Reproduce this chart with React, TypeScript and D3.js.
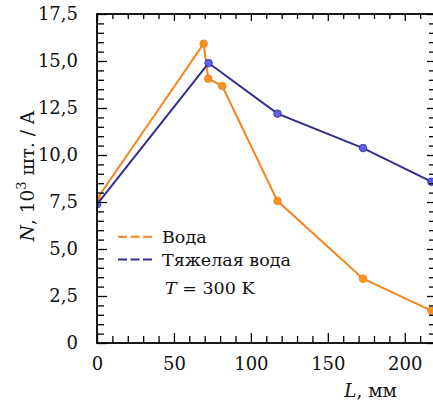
import { useEffect, useRef } from "react";
import * as d3 from "d3";

// Вода (обычная)
const waterL = [0, 69.3, 72.3, 81.4, 117.3, 172.9, 217.3];
const waterN = [7.66, 15.92, 14.06, 13.67, 7.55, 3.42, 1.72];

// Тяжелая вода
const heavyL = [0, 72.5, 117.3, 172.9, 217.3];
const heavyN = [7.38, 14.89, 12.2, 10.37, 8.58];

const xMajor = [0, 50, 100, 150, 200];
const yMajor = [0, 2.5, 5, 7.5, 10, 12.5, 15, 17.5];

const FONT = "'DejaVu Serif', serif";

const App = () => {
  const svgRef = useRef<SVGSVGElement>(null);

  useEffect(() => {
    const width = 433;
    const height = 404;
    const left = 97;
    const top = 14;
    const bottom = 343;

    const svg = d3.select(svgRef.current).attr("width", width).attr("height", height);
    svg.selectAll("*").remove();

    const x = d3.scaleLinear().domain([0, 219]).range([left, 434]);
    const y = d3.scaleLinear().domain([0, 17.5]).range([bottom, top]);

    const xMinor = d3.range(0, 219, 10).filter((v) => v % 50 !== 0);
    const yMinor = d3.range(0, 17.5, 0.5).filter((v) => Math.abs(v / 2.5 - Math.round(v / 2.5)) > 1e-6);

    // clip for data
    svg
      .append("clipPath")
      .attr("id", "plot-clip")
      .append("rect")
      .attr("x", x(0))
      .attr("y", y(17.5))
      .attr("width", x(219) - x(0))
      .attr("height", y(0) - y(17.5));

    const plot = svg.append("g").attr("clip-path", "url(#plot-clip)");

    const series = [
      { L: waterL, N: waterN, line: "#f5841f", fill: "#f7931e", edge: "#f07d1a" },
      { L: heavyL, N: heavyN, line: "#2e2e8f", fill: "#5f5fe8", edge: "#2e2e8f" },
    ];

    series.forEach((s) => {
      const pts = s.L.map((l, i) => [l, s.N[i]] as [number, number]);
      const line = d3
        .line<[number, number]>()
        .x((d) => x(d[0]))
        .y((d) => y(d[1]));
      plot
        .append("path")
        .attr("d", line(pts))
        .attr("fill", "none")
        .attr("stroke", s.line)
        .attr("stroke-width", 2);
      plot
        .selectAll(null)
        .data(pts)
        .enter()
        .append("circle")
        .attr("cx", (d) => x(d[0]))
        .attr("cy", (d) => y(d[1]))
        .attr("r", 3.8)
        .attr("fill", s.fill)
        .attr("stroke", s.edge)
        .attr("stroke-width", 0.8);
    });

    // ticks (inward on all four sides)
    const fmtY = (d: d3.NumberValue) => (+d === 0 ? "0" : d3.format(".1f")(+d).replace(".", ","));

    const addAxis = (axis: any, transform: string, labels: boolean) => {
      const g = svg.append("g").attr("transform", transform).call(axis);
      g.select(".domain").remove();
      g.selectAll("line").attr("stroke", "#000").attr("stroke-width", 1.3);
      g.selectAll("text")
        .style("font-family", FONT)
        .style("font-size", "18px")
        .attr("fill", "#111");
      if (!labels) g.selectAll("text").remove();
      return g;
    };

    const bottomAxis = addAxis(
      d3.axisBottom(x).tickValues(xMajor).tickSize(-10).tickPadding(14).tickFormat(d3.format("d")),
      `translate(0,${bottom})`,
      true
    );
    bottomAxis.selectAll("text").attr("dy", "0.71em");
    addAxis(d3.axisBottom(x).tickValues(xMinor).tickSize(-7).tickFormat(() => ""), `translate(0,${bottom})`, false);
    addAxis(d3.axisTop(x).tickValues(xMajor).tickSize(-7), `translate(0,${top})`, false);
    addAxis(d3.axisTop(x).tickValues(xMinor).tickSize(-5), `translate(0,${top})`, false);

    addAxis(
      d3.axisLeft(y).tickValues(yMajor).tickSize(-10).tickPadding(19).tickFormat(fmtY),
      `translate(${left},0)`,
      true
    );
    addAxis(d3.axisLeft(y).tickValues(yMinor).tickSize(-7).tickFormat(() => ""), `translate(${left},0)`, false);
    addAxis(d3.axisRight(y).tickValues(yMajor).tickSize(-7), `translate(${x(219)},0)`, false);
    addAxis(d3.axisRight(y).tickValues(yMinor).tickSize(-5), `translate(${x(219)},0)`, false);

    // frame
    svg
      .append("rect")
      .attr("x", x(0))
      .attr("y", y(17.5))
      .attr("width", x(219) - x(0))
      .attr("height", y(0) - y(17.5))
      .attr("fill", "none")
      .attr("stroke", "#000")
      .attr("stroke-width", 1.8);

    // axis labels
    const ylab = svg
      .append("text")
      .attr("transform", "translate(34,176) rotate(-90)")
      .attr("text-anchor", "middle")
      .style("font-family", FONT)
      .style("font-size", "18.5px")
      .attr("fill", "#111");
    ylab.append("tspan").style("font-style", "italic").text("N");
    ylab.append("tspan").text(", 10");
    ylab.append("tspan").attr("dy", -8).style("font-size", "13px").text("3");
    ylab.append("tspan").attr("dy", 8).text(" шт. / A");

    const xlab = svg
      .append("text")
      .attr("x", 397)
      .attr("y", 397)
      .attr("text-anchor", "end")
      .style("font-family", FONT)
      .style("font-size", "18.5px")
      .attr("fill", "#111");
    xlab.append("tspan").style("font-style", "italic").text("L");
    xlab.append("tspan").text(", мм");

    // legend
    const legend = [
      { name: "Вода", color: series[0].line, y: 236.7 },
      { name: "Тяжелая вода", color: series[1].line, y: 259.5 },
    ];
    legend.forEach((d) => {
      svg
        .append("line")
        .attr("x1", 118)
        .attr("x2", 153)
        .attr("y1", d.y)
        .attr("y2", d.y)
        .attr("stroke", d.color)
        .attr("stroke-width", 2)
        .attr("stroke-dasharray", "9,3.5");
      svg
        .append("text")
        .attr("x", 162)
        .attr("y", d.y + 6.5)
        .style("font-family", FONT)
        .style("font-size", "17.5px")
        .attr("fill", "#111")
        .text(d.name);
    });
    const tlab = svg
      .append("text")
      .attr("x", 165)
      .attr("y", 294)
      .style("font-family", FONT)
      .style("font-size", "17.5px")
      .attr("fill", "#111");
    tlab.append("tspan").style("font-style", "italic").text("T");
    tlab.append("tspan").text(" = 300 K");
  }, []);

  return (
    <div style={{ position: "absolute", left: 0, top: 0 }}>
      <svg ref={svgRef} style={{ display: "block", background: "#fff" }}></svg>
    </div>
  );
};

export default App;
